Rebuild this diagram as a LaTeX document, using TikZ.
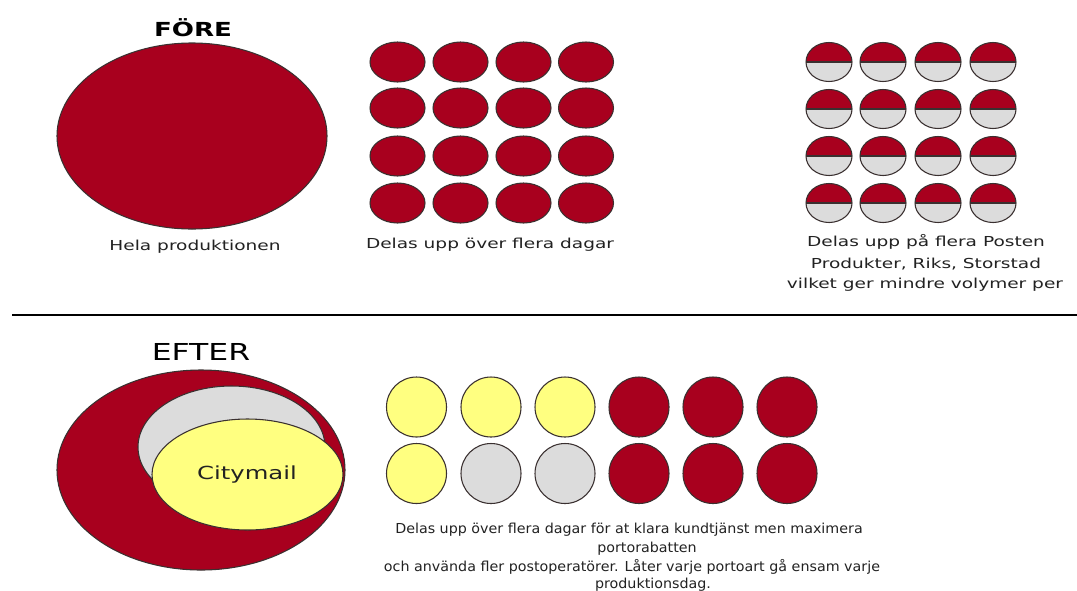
\documentclass[tikz,border=0pt]{standalone}
\usepackage{fontspec}
\setmainfont{DejaVu Sans}
\definecolor{dred}{HTML}{A8001E}
\definecolor{lyel}{HTML}{FFFF80}
\definecolor{lgrey}{HTML}{DCDCDC}
\definecolor{edge}{HTML}{3A3030}
\definecolor{txt}{HTML}{222222}
\newcommand{\wide}[1]{\scalebox{1.35}[1]{#1}}
\newcommand{\narrow}[1]{\scalebox{1.04}[1]{#1}}
\tikzset{
  lbl/.style={inner sep=0pt, text=txt, font=\fontsize{10.3pt}{12pt}\selectfont},
  redfill/.style={fill=dred, draw=edge, line width=0.8pt},
  yelfill/.style={fill=lyel, draw=edge, line width=0.8pt},
  greyfill/.style={fill=lgrey, draw=edge, line width=0.8pt},
}
\begin{document}
\begin{tikzpicture}[x=0.75pt,y=-0.75pt]
\useasboundingbox (0,0) rectangle (1077,590);
\fill[white] (0,0) rectangle (1077,590);

% FÖRE
\node[inner sep=0pt, font=\bfseries\fontsize{14.5pt}{16pt}\selectfont] (fore) at (193,28) {\wide{FÖRE}};
\draw[redfill] (192,136) ellipse [x radius=135, y radius=93];
\node[lbl] (hela) at (195,247) {\wide{Hela produktionen}};

% 4x4 red grid
\foreach \cx in {397.5,460.5,523.5,586}
  \foreach \cy in {62,108,156,203}
    \draw[redfill] (\cx,\cy) ellipse [x radius=27.5, y radius=20];
\node[lbl] (dagar) at (490,245) {\wide{Delas upp över flera dagar}};

% 4x4 half grid
\foreach \cx in {829,883,938,993}
  \foreach \cy in {62,109,156,203}{
    \fill[lgrey] (\cx,\cy) ellipse [x radius=23, y radius=19.5];
    \begin{scope}
      \clip (\cx-25,\cy-22) rectangle (\cx+25,\cy);
      \fill[dred] (\cx,\cy) ellipse [x radius=23, y radius=19.5];
    \end{scope}
    \draw[edge, line width=0.8pt] (\cx-23,\cy) -- (\cx+23,\cy);
    \draw[edge, line width=0.8pt] (\cx,\cy) ellipse [x radius=23, y radius=19.5];
  }
\node[lbl] (p1) at (926,242) {\wide{Delas upp på flera Posten}};
\node[lbl] (p2) at (926,264) {\wide{Produkter, Riks, Storstad}};
\node[lbl] (p3) at (925,285) {\wide{vilket ger mindre volymer per}};

% separator
\coordinate (sepL) at (12,315);
\coordinate (sepR) at (1077,315);
\draw[black, line width=1pt] (sepL) -- (sepR);

% EFTER
\node[inner sep=0pt, font=\fontsize{17.5pt}{19pt}\selectfont] (efter) at (201,352) {\wide{EFTER}};
\draw[redfill] (201,470) ellipse [x radius=144, y radius=100];
\draw[greyfill] (231.5,447) ellipse [x radius=93.5, y radius=61];
\draw[yelfill] (247.5,474.5) ellipse [x radius=95.5, y radius=55.5];
\node[inner sep=0pt, text=txt, font=\fontsize{13.5pt}{15pt}\selectfont] (city) at (247,475) {\wide{Citymail}};

% bottom circles
\foreach \cx in {416.5,491,565}
  \draw[yelfill] (\cx,407) circle [radius=30];
\foreach \cx in {639,713,787}{
  \draw[redfill] (\cx,407) circle [radius=30];
  \draw[redfill] (\cx,473.5) circle [radius=30];
}
\draw[yelfill] (416.5,473.5) circle [radius=30];
\foreach \cx in {491,565}
  \draw[greyfill] (\cx,473.5) circle [radius=30];

\node[lbl] (b1) at (629,530) {\narrow{Delas upp över flera dagar för at klara kundtjänst men maximera}};
\node[lbl] (b2) at (647,549) {\narrow{portorabatten}};
\node[lbl] (b3) at (632,567) {\narrow{och använda fler postoperatörer. Låter varje portoart gå ensam varje}};
\node[lbl] (b4) at (653,585) {\narrow{produktionsdag.}};
\end{tikzpicture}
\end{document}
